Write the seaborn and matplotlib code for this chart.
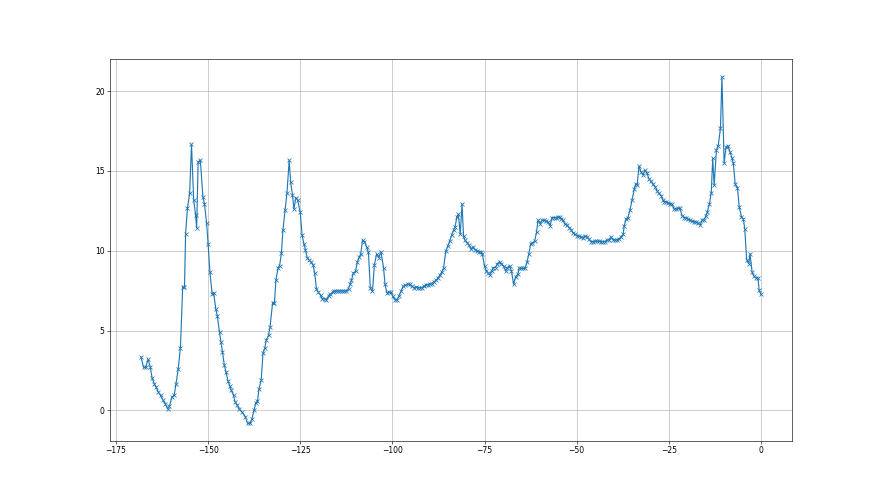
#!/usr/bin/env python3
"""Line with x markers over the last ~168 units, default matplotlib look."""
import matplotlib
matplotlib.use("Agg")
import matplotlib.pyplot as plt
import seaborn as sns
import pandas as pd

# values, left to right
days = [
    -168.2, -167.5, -166.9, -166.3, -165.7, -165.2, -164.6, -164.1, -163.5, -162.9,
    -162.3, -161.6, -161.0, -160.5, -159.8, -159.2, -158.7, -158.1, -157.5, -156.9,
    -156.4, -156.1, -155.6, -155.0, -154.5, -153.9, -153.4, -153.1, -152.7, -152.1,
    -151.4, -151.0, -150.4, -150.0, -149.5, -148.9, -148.5, -147.9, -147.5, -146.9,
    -146.5, -146.1, -145.6, -145.1, -144.6, -144.1, -143.7, -143.1, -142.7, -142.1,
    -141.5, -140.8, -139.9, -139.3, -138.6, -138.1, -137.5, -137.1, -136.6, -136.2,
    -135.6, -135.1, -134.6, -134.2, -133.6, -133.2, -132.5, -132.0, -131.6, -131.0,
    -130.6, -130.1, -129.7, -129.1, -128.6, -128.0, -127.6, -127.1, -126.7, -126.2,
    -125.7, -125.0, -124.5, -124.0, -123.6, -123.1, -122.5, -122.0, -121.5, -121.1,
    -120.6, -120.1, -119.5, -119.0, -118.4, -117.9, -117.3, -116.8, -116.2, -115.8,
    -115.3, -114.7, -114.2, -113.6, -113.1, -112.6, -111.9, -111.5, -111.1, -110.6,
    -110.0, -109.5, -109.0, -108.6, -108.1, -107.6, -107.0, -106.5, -106.0, -105.4,
    -104.9, -104.3, -103.7, -103.1, -102.4, -102.0, -101.5, -101.0, -100.4, -99.9,
    -99.3, -98.7, -98.2, -97.6, -97.1, -96.5, -95.8, -95.3, -94.7, -94.2,
    -93.7, -93.1, -92.6, -92.0, -91.5, -90.9, -90.4, -89.9, -89.3, -88.8,
    -88.2, -87.7, -87.2, -86.6, -86.1, -85.5, -85.0, -84.4, -83.9, -83.4,
    -83.0, -82.5, -82.1, -81.6, -81.1, -80.7, -80.3, -79.7, -79.2, -78.7,
    -78.1, -77.6, -77.0, -76.5, -75.9, -75.6, -75.0, -74.5, -74.0, -73.6,
    -73.1, -72.6, -72.0, -71.5, -70.9, -70.4, -69.8, -69.3, -68.8, -68.2,
    -67.7, -67.1, -66.6, -66.0, -65.6, -65.1, -64.6, -64.0, -63.5, -63.0,
    -62.5, -62.0, -61.4, -60.9, -60.5, -59.9, -59.4, -58.9, -58.3, -57.8,
    -57.2, -56.7, -56.1, -55.6, -55.1, -54.6, -54.2, -53.7, -53.2, -52.6,
    -52.1, -51.5, -51.0, -50.4, -49.9, -49.4, -48.8, -48.3, -47.7, -47.2,
    -46.7, -46.1, -45.6, -45.0, -44.5, -43.9, -43.4, -42.9, -42.3, -41.8,
    -41.2, -40.7, -40.1, -39.6, -39.1, -38.5, -38.0, -37.4, -37.1, -36.6,
    -36.1, -35.5, -35.0, -34.4, -34.0, -33.6, -33.1, -32.5, -32.0, -31.5,
    -30.9, -30.4, -29.8, -29.3, -28.7, -28.2, -27.7, -27.1, -26.7, -26.3,
    -25.8, -25.2, -24.7, -24.1, -23.6, -23.1, -22.5, -22.0, -21.4, -20.9,
    -20.3, -19.8, -19.3, -18.7, -18.2, -17.6, -17.1, -16.5, -16.0, -15.5,
    -14.9, -14.6, -14.0, -13.5, -13.1, -12.7, -12.1, -11.6, -11.0, -10.6,
    -10.0, -9.5, -9.0, -8.4, -7.9, -7.5, -7.0, -6.4, -5.9, -5.3,
    -4.8, -4.4, -3.9, -3.3, -3.0, -2.4, -1.9, -1.4, -0.8, -0.5,
    0.0,
]

values = [
    3.34, 2.70, 2.70, 3.20, 2.75, 2.05, 1.67, 1.46, 1.15, 0.94,
    0.67, 0.42, 0.10, 0.25, 0.84, 0.94, 1.67, 2.60, 3.93, 7.70,
    7.70, 11.08, 12.65, 13.60, 16.66, 13.15, 12.27, 11.43, 15.57, 15.67,
    13.37, 12.96, 11.74, 10.45, 8.65, 7.31, 7.35, 6.35, 5.93, 4.89,
    4.26, 3.68, 2.84, 2.38, 1.84, 1.53, 1.25, 0.94, 0.56, 0.33,
    0.08, -0.10, -0.38, -0.80, -0.80, -0.52, 0.04, 0.46, 0.58, 1.36,
    1.88, 3.60, 3.93, 4.43, 4.70, 5.22, 6.73, 6.73, 8.15, 8.95,
    9.07, 9.86, 11.29, 12.58, 13.62, 15.67, 14.29, 13.48, 12.62, 13.33,
    13.17, 12.41, 10.97, 10.45, 10.07, 9.57, 9.40, 9.28, 9.11, 8.61,
    7.61, 7.40, 7.21, 6.98, 7.00, 6.94, 7.19, 7.31, 7.40, 7.48,
    7.48, 7.48, 7.48, 7.48, 7.48, 7.48, 7.63, 7.90, 8.15, 8.61,
    8.71, 9.28, 9.61, 9.78, 10.66, 10.58, 10.24, 9.91, 7.69, 7.46,
    9.11, 9.78, 9.57, 9.91, 8.95, 7.90, 7.38, 7.40, 7.40, 7.15,
    6.94, 6.94, 7.19, 7.48, 7.77, 7.84, 7.90, 7.90, 7.77, 7.69,
    7.73, 7.69, 7.69, 7.69, 7.77, 7.88, 7.88, 7.92, 7.94, 8.05,
    8.15, 8.28, 8.46, 8.67, 8.95, 9.99, 10.28, 10.64, 11.00, 11.30,
    11.49, 12.12, 12.29, 11.03, 12.92, 10.91, 10.66, 10.49, 10.36, 10.11,
    10.24, 10.07, 9.99, 9.95, 9.95, 9.78, 9.03, 8.73, 8.61, 8.48,
    8.73, 8.95, 8.95, 9.20, 9.32, 9.15, 9.03, 8.73, 8.95, 9.07,
    8.73, 7.90, 8.36, 8.53, 8.90, 8.90, 8.90, 8.90, 9.28, 9.78,
    10.41, 10.49, 10.61, 11.16, 11.91, 11.70, 11.91, 11.91, 11.87, 11.79,
    11.58, 12.08, 12.08, 12.08, 12.12, 12.12, 11.99, 11.91, 11.66, 11.62,
    11.45, 11.33, 11.12, 11.03, 10.95, 10.91, 10.87, 10.83, 10.91, 10.87,
    10.74, 10.58, 10.58, 10.60, 10.60, 10.60, 10.58, 10.58, 10.58, 10.66,
    10.70, 10.87, 10.70, 10.66, 10.70, 10.74, 10.87, 11.03, 11.58, 11.99,
    12.08, 12.58, 13.17, 13.84, 14.21, 14.13, 15.30, 14.92, 14.75, 15.05,
    14.84, 14.50, 14.34, 14.17, 14.00, 13.75, 13.59, 13.46, 13.21, 13.08,
    13.08, 13.00, 12.96, 12.92, 12.62, 12.62, 12.66, 12.66, 12.20, 12.08,
    12.08, 11.99, 11.91, 11.87, 11.83, 11.79, 11.75, 11.62, 11.91, 11.95,
    12.20, 12.41, 12.92, 13.62, 15.78, 14.10, 16.30, 16.59, 17.66, 20.90,
    15.50, 16.47, 16.59, 16.18, 15.84, 15.47, 14.17, 13.96, 12.75, 12.12,
    11.99, 11.37, 9.45, 9.20, 9.82, 8.65, 8.40, 8.32, 8.28, 7.52,
    7.27,
]


def main():
    df = pd.DataFrame({"day": days, "value": values})

    fig, ax = plt.subplots(figsize=(16, 9))
    sns.lineplot(
        data=df, x="day", y="value", ax=ax,
        marker="x", color="tab:blue",
        markeredgecolor="tab:blue", markeredgewidth=1.0, markersize=6,
        linewidth=1.5, estimator=None, sort=False,
    )
    ax.set_xlabel("")
    ax.set_ylabel("")
    ax.grid(True)

    fig.savefig("out.png", dpi=55)


if __name__ == "__main__":
    main()
